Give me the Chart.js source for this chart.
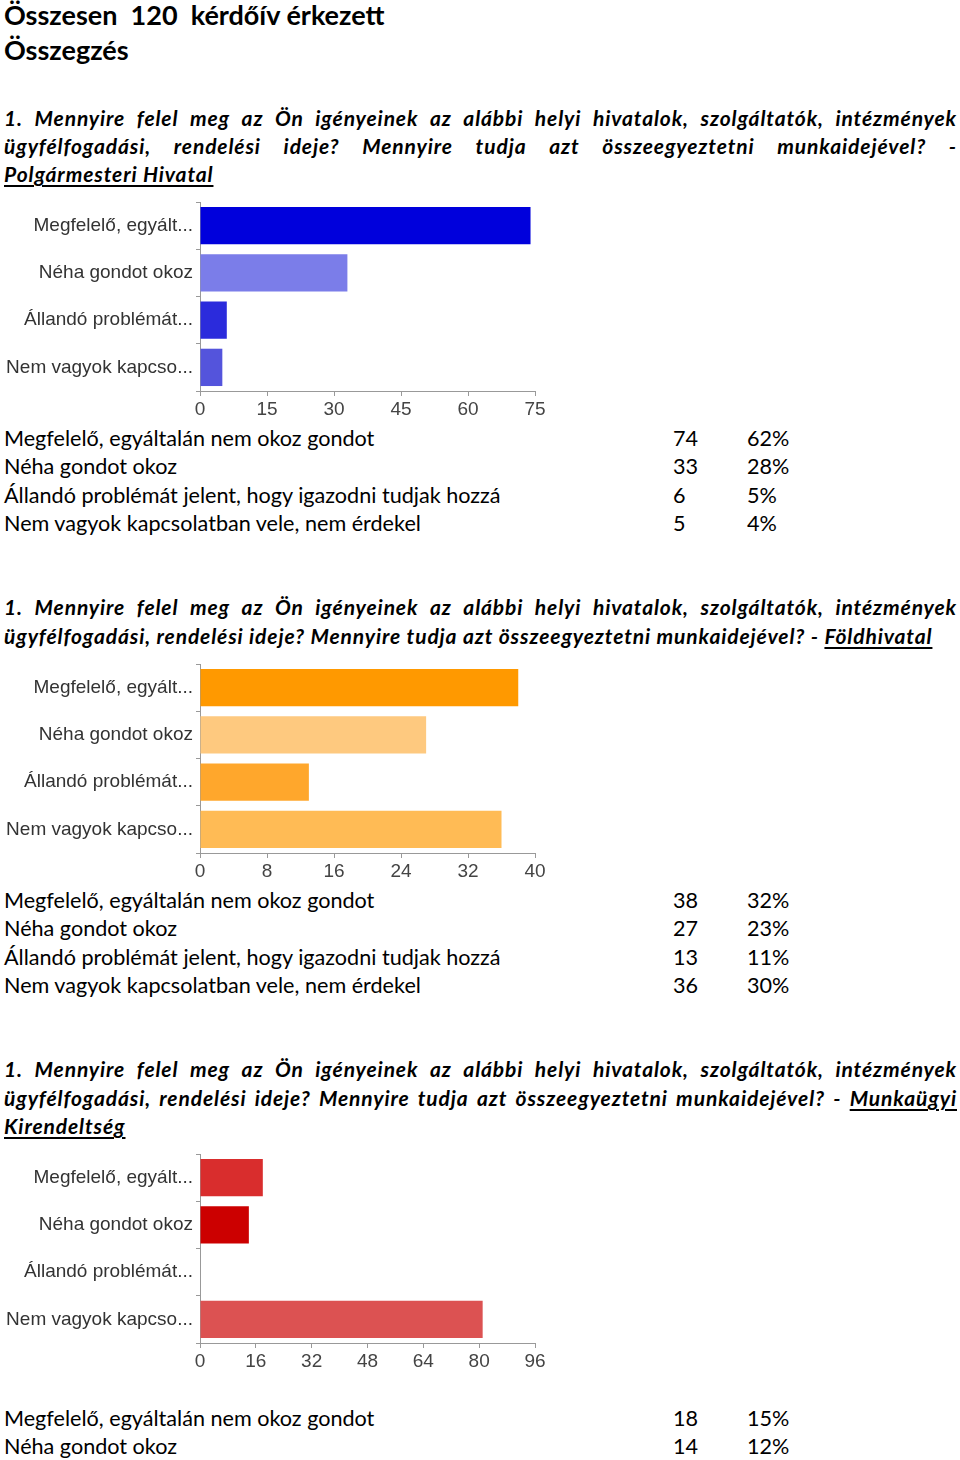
<!DOCTYPE html>
<html lang="hu">
<head>
<meta charset="utf-8">
<title>Összegzés</title>
<script src="https://cdn.jsdelivr.net/npm/chart.js@4.4.1/dist/chart.umd.min.js"></script>
<style>
  html, body { margin: 0; padding: 0; background: #fff; }
  body { width: 960px; height: 1460px; position: relative; overflow: hidden; font-family: Lato, "Open Sans", sans-serif; color: #000; }
  .abs { position: absolute; left: 4px; white-space: pre; line-height: 28px; }
  .h1 { font-size: 27px; font-weight: bold; }
  .q { width: 953px; font-size: 21px; letter-spacing: 0.88px; font-weight: bold; font-style: italic; }
  .just { text-align: justify; text-align-last: justify; white-space: normal; }
  .u { text-decoration: underline; text-underline-offset: 3px; }
  .row { position: absolute; left: 4px; width: 800px; height: 28px; line-height: 28px; font-size: 21.6px; white-space: nowrap; }
  .row span { position: absolute; top: 0; }
  .box { position: absolute; left: 0; width: 550px; height: 220px; }
  canvas { display: block; }
</style>
</head>
<body>

<div class="abs h1" style="top:1px">Összesen  120  kérdőív érkezett</div>
<div class="abs h1" style="top:36px">Összegzés</div>

<div class="abs q just" style="top:104px">1. Mennyire felel meg az Ön igényeinek az alábbi helyi hivatalok, szolgáltatók, intézmények</div>
<div class="abs q just" style="top:132px">ügyfélfogadási, rendelési ideje? Mennyire tudja azt összeegyeztetni munkaidejével? -</div>
<div class="abs q" style="top:160px"><span class="u">Polgármesteri Hivatal</span></div>

<div class="box" style="top:200px"><canvas id="c1" width="550" height="220"></canvas></div>
<div id="t1"></div>

<div class="abs q just" style="top:593px">1. Mennyire felel meg az Ön igényeinek az alábbi helyi hivatalok, szolgáltatók, intézmények</div>
<div class="abs q" style="top:622px">ügyfélfogadási, rendelési ideje? Mennyire tudja azt összeegyeztetni munkaidejével? - <span class="u">Földhivatal</span></div>

<div class="box" style="top:662px"><canvas id="c2" width="550" height="220"></canvas></div>
<div id="t2"></div>

<div class="abs q just" style="top:1055px">1. Mennyire felel meg az Ön igényeinek az alábbi helyi hivatalok, szolgáltatók, intézmények</div>
<div class="abs q just" style="top:1084px">ügyfélfogadási, rendelési ideje? Mennyire tudja azt összeegyeztetni munkaidejével? - <span class="u">Munkaügyi</span></div>
<div class="abs q" style="top:1112px"><span class="u">Kirendeltség</span></div>

<div class="box" style="top:1152px"><canvas id="c3" width="550" height="220"></canvas></div>
<div id="t3"></div>

<script>
// --- ADATOK ---
const shortLabels = ['Megfelelő, egyált...', 'Néha gondot okoz', 'Állandó problémát...', 'Nem vagyok kapcso...'];
const fullLabels = [
    'Megfelelő, egyáltalán nem okoz gondot',
    'Néha gondot okoz',
    'Állandó problémát jelent, hogy igazodni tudjak hozzá',
    'Nem vagyok kapcsolatban vele, nem érdekel'
];

const polgarValues = [74, 33, 6, 5];
const polgarPercent = ['62%', '28%', '5%', '4%'];

const foldValues = [38, 27, 13, 36];
const foldPercent = ['32%', '23%', '11%', '30%'];

const munkaValues = [18, 14, 0, 81];
const munkaPercent = ['15%', '12%'];   // a lap alján csak két sor látszik

const polgarTicks = { max: 75, step: 15 };
const foldTicks = { max: 40, step: 8 };
const munkaTicks = { max: 96, step: 16 };

const blueColors = ['#0000dc', '#7b7de9', '#2b2bdc', '#5454dc'];
const orangeColors = ['#ff9900', '#fec97f', '#ffa72c', '#ffbb55'];
const redColors = ['#d92d2d', '#cc0000', '#e06666', '#dc5252'];

const axisFont = { family: '"Liberation Sans", Arial, sans-serif', size: 19 };

// --- GRAFIKON ---
function drawChart(id, values, colors, ticks) {
    const ctx = document.getElementById(id).getContext('2d');
    return new Chart(ctx, {
        type: 'bar',
        data: {
            labels: shortLabels,
            datasets: [{
                data: values,
                backgroundColor: colors,
                borderWidth: 0,
                barPercentage: 0.79,
                categoryPercentage: 1
            }]
        },
        options: {
            indexAxis: 'y',
            responsive: false,
            animation: false,
            layout: { padding: { top: 2, right: 15, left: 0, bottom: 0 } },
            plugins: { legend: { display: false }, tooltip: { enabled: false } },
            scales: {
                x: {
                    min: 0,
                    max: ticks.max,
                    afterFit: s => { s.height = 29; },
                    border: { color: '#999', width: 1 },
                    grid: { drawOnChartArea: false, drawTicks: true, tickLength: 5, color: '#999' },
                    ticks: {
                        stepSize: ticks.step,
                        padding: 2,
                        color: '#444',
                        font: axisFont
                    }
                },
                y: {
                    // fix szélesség, és ne tolja le a címkék fél magassága
                    afterFit: s => { s.width = 200; s.paddingTop = 0; s.paddingBottom = 0; },
                    border: { color: '#999', width: 1 },
                    grid: { drawOnChartArea: false, drawTicks: true, tickLength: 4, color: '#999' },
                    ticks: {
                        padding: 3,
                        color: '#333',
                        font: axisFont
                    }
                }
            }
        }
    });
}

// --- TÁBLÁZAT ---
function drawTable(id, values, percents, firstTop) {
    const host = document.getElementById(id);
    percents.forEach((p, i) => {
        const row = document.createElement('div');
        row.className = 'row';
        row.style.top = (firstTop + i * 28.4) + 'px';
        row.innerHTML = '<span style="left:0">' + fullLabels[i] + '</span>' +
            '<span style="left:669px">' + values[i] + '</span>' +
            '<span style="left:743px">' + p + '</span>';
        host.appendChild(row);
    });
}

drawChart('c1', polgarValues, blueColors, polgarTicks);
drawChart('c2', foldValues, orangeColors, foldTicks);
drawChart('c3', munkaValues, redColors, munkaTicks);

drawTable('t1', polgarValues, polgarPercent, 424);
drawTable('t2', foldValues, foldPercent, 886);
drawTable('t3', munkaValues, munkaPercent, 1404);
</script>
</body>
</html>
